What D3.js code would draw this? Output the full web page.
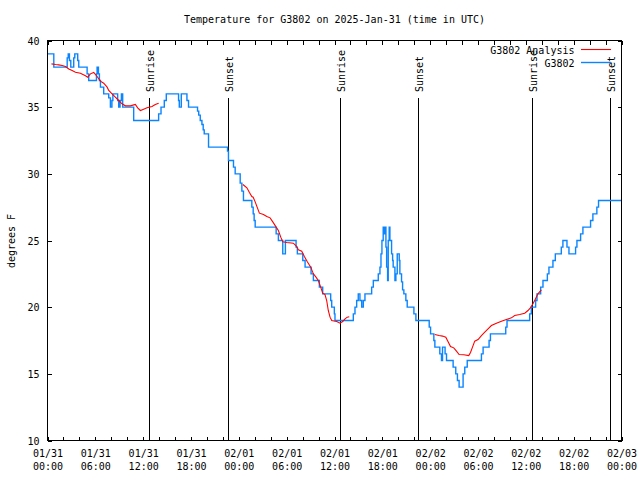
<!DOCTYPE html>
<html><head><meta charset="utf-8">
<script src="https://cdn.jsdelivr.net/npm/d3@7"></script>
<style>
body{margin:0;background:#fff}
text{font-family:"DejaVu Sans Mono","Liberation Mono",monospace;font-size:10px;fill:#000}
</style>
</head><body>
<svg id="c" width="640" height="480"></svg>
<script>
// ---- data ----
const title = "Temperature for G3802 on 2025-Jan-31 (time in UTC)";
const yLabel = "degrees F";
const yTicks = [10, 15, 20, 25, 30, 35, 40];
const xTickHours = [0, 6, 12, 18, 24, 30, 36, 42, 48, 54, 60, 66, 72];
const xTickDates = ["01/31","01/31","01/31","01/31","02/01","02/01","02/01","02/01","02/02","02/02","02/02","02/02","02/03"];
const xTickTimes = ["00:00","06:00","12:00","18:00","00:00","06:00","12:00","18:00","00:00","06:00","12:00","18:00","00:00"];
const xMinorHours = d3.range(0, 73, 2);
const sunHours = [12.68, 22.58, 36.73, 46.49, 60.77, 70.54];
const sunLabels = ["Sunrise", "Sunset", "Sunrise", "Sunset", "Sunrise", "Sunset"];
const seriesNames = ["G3802 Analysis", "G3802"];

// observed G3802 (hours since 01/31 00:00 UTC, °F), step-after
const obsHours = [0, 0.79, 2.47, 2.6, 2.75, 2.92, 3.29, 3.42, 3.79, 3.92, 4.97, 5.17, 6.14, 6.22, 6.39, 6.51, 6.64, 7.05,
  7.68, 7.89, 8.08, 8.2, 8.8, 8.93, 9.1, 9.27, 9.43, 10.81, 13.94, 14.24, 14.65, 14.9, 16.44, 16.53, 16.78, 17.49, 17.69,
  18.82, 18.97, 19.16, 19.37, 19.53, 19.66, 20.2, 22.58, 22.7, 23.33, 23.54, 24.17, 24.38, 24.58, 25.63, 25.8, 25.92, 26.05,
  28.68, 28.96, 29.51, 29.84, 31.18, 31.34, 32.02, 32.31, 33.06, 33.35, 34.1, 34.52, 35.52, 35.65, 35.98, 36.06,
  38.36, 38.57, 38.78, 38.98, 39.19, 39.41, 39.61, 39.82, 40.66, 40.87, 41.49, 41.7, 41.83, 41.95, 42.11, 42.24, 42.32,
  42.45, 42.54, 42.66, 42.74, 42.86, 42.95, 43.16, 43.29, 43.36, 43.58, 43.7, 43.87, 44.12, 44.2, 44.41, 44.54, 44.7,
  44.95, 45.12, 45.96, 46.21, 47.88, 48.05, 48.46, 48.59, 49.21, 49.42, 49.55, 49.87, 50.05, 50.88, 51.21, 51.42, 51.63,
  52.13, 52.34, 52.65, 54.43, 54.64, 55.39, 55.56, 57.48, 57.64, 60.48, 60.69, 61.23, 61.4, 61.86, 62.15, 62.7, 62.9,
  63.4, 63.7, 64.45, 64.65, 65.16, 65.41, 66.24, 66.41, 66.87, 67.16, 68.12, 68.41, 68.91, 69.12, 72];
const obsTemps = [39, 38, 38.7, 39, 38.5, 38, 38.7, 39, 38.5, 38, 37.5, 37, 37.5, 38, 37.5, 37, 36.5, 36,
  35.7, 35, 35.5, 36, 35.5, 35, 35.5, 36, 35, 34, 34.5, 35, 35.5, 36, 35.5, 35, 36, 35.5, 35,
  34.7, 34.4, 34, 33.7, 33.3, 33, 32, 31.7, 31, 30.5, 30, 29.3, 28.7, 28, 27.5, 27, 26.5, 26,
  25.5, 25, 24, 25, 24.5, 24, 23.5, 23, 22.5, 22, 21.5, 21, 20.5, 20, 19.5, 19,
  19.5, 20, 20.5, 21, 20.5, 20, 20.5, 21, 21.5, 22, 22.5, 23, 24, 25, 26, 25.5, 26,
  24.5, 23, 22, 25, 26, 25, 24, 23.5, 23, 22, 22.5, 24, 23.5, 22.5, 21.9, 21.3, 21,
  20.5, 20, 19.5, 19, 18.5, 18, 17.5, 17, 16.5, 16, 17, 16.5, 16, 15.5, 15, 14.5, 14,
  15, 15.5, 16, 16.5, 17, 17.5, 18, 18.5, 19, 19.5, 20, 20.5, 21, 21.5, 22, 22.5, 23,
  23.5, 24, 24.5, 25, 24.5, 24, 24.5, 25, 25.5, 26, 26.5, 27, 27.5, 28, 28];

// analysis (null = gap)
const anaHours = [0.5, 1.0, 1.41, 1.84, 2.25, 2.67, 3.09, 3.51, 4.13, 4.76, 5.05, 5.38, 5.8, 6.22, 6.64, 7.05, 7.48, 7.68,
  8.1, 8.51, 8.93, 9.35, 9.77, 10.39, 11.02, 11.31, 11.65, 12.06, 12.48, 13.11, 13.52, 13.94, 19,
  24.51, 25.01, 25.33, 25.63, 25.8, 26.05, 26.33, 26.58, 27.09, 27.51, 27.92, 28.26, 28.68, 28.96, 29.26, 29.51, 30.02,
  30.84, 31.18, 31.47, 31.89, 32.22, 32.59, 33.02, 33.35, 33.68, 33.97, 34.27, 34.52, 34.81, 35.02, 35.22, 35.44, 35.65,
  36.28, 36.69, 37.03, 37.32, 37.6, 37.85, 43,
  48.58, 49.12, 49.55, 49.96, 50.25, 50.55, 50.96, 51.3, 51.63, 52.22, 52.84, 53.06, 53.31, 53.59, 54.01, 54.43, 54.85,
  55.26, 55.68, 56.31, 56.94, 57.56, 58.19, 58.6, 59.23, 59.86, 60.27, 60.57, 60.89, 61.19, 61.52, 61.95];
const anaTemps = [38.25, 38.2, 38.17, 38.12, 38.05, 37.87, 37.75, 37.62, 37.55, 37.35, 37.25, 37.5, 37.6, 37.3, 36.95, 36.8, 36.5, 36.25,
  36.0, 35.75, 35.5, 35.25, 35.1, 35.1, 35.2, 34.95, 34.75, 34.85, 34.95, 35.05, 35.2, 35.3, null,
  29.2, 28.95, 28.6, 28.3, 28.25, 27.9, 27.45, 27.05, 26.95, 26.8, 26.7, 26.4, 26.0, 25.75, 25.25, 24.9, 24.85,
  24.8, 24.6, 24.3, 24.2, 23.8, 23.4, 23.0, 22.5, 22.25, 22.0, 21.5, 21.05, 20.95, 20.5, 19.75, 19.25, 19.0,
  18.92, 18.8, 18.92, 19.12, 19.25, 19.28, null,
  17.95, 17.87, 17.83, 17.75, 17.4, 17.05, 16.95, 16.7, 16.45, 16.43, 16.37, 16.6, 17.0, 17.45, 17.57, 17.87, 18.12,
  18.37, 18.62, 18.8, 18.95, 19.07, 19.2, 19.37, 19.45, 19.55, 19.75, 19.95, 20.25, 20.6, 21.0, 21.3];

// ---- drawing ----
const L = 47.5, R = 621.5, T = 40.5, B = 440.5;
const svg = d3.select("#c");
const x = d3.scaleLinear().domain([0, 72]).range([L, R]);
const y = d3.scaleLinear().domain([10, 40]).range([B, T]);

svg.append("rect").attr("width", 640).attr("height", 480).attr("fill", "#fff");

svg.append("text").attr("x", 334.5).attr("y", 23).attr("text-anchor", "middle").text(title);
svg.append("text").attr("transform", "translate(15,241) rotate(-90)").attr("text-anchor", "middle").text(yLabel);

function clean(g) { g.select(".domain").remove(); g.selectAll("line").attr("stroke", "#000").attr("shape-rendering", "crispEdges"); }

// bottom ticks + labels
svg.append("g").attr("transform", `translate(0,${B})`)
  .call(d3.axisBottom(x).tickValues(xMinorHours).tickSize(-4).tickFormat(""))
  .call(clean);
const bl = svg.append("g").attr("transform", `translate(0,${B})`)
  .call(d3.axisBottom(x).tickValues(xTickHours).tickSize(0).tickFormat(""));
bl.select(".domain").remove();
bl.selectAll(".tick text").each(function(d, i) {
  const t = d3.select(this).attr("y", null).attr("dy", null)
    .attr("font-family", null).attr("font-size", null).attr("fill", null);
  t.append("tspan").attr("x", 0).attr("y", 16.5).text(xTickDates[i]);
  t.append("tspan").attr("x", 0).attr("y", 29).text(xTickTimes[i]);
});
// top ticks
svg.append("g").attr("transform", `translate(0,${T})`)
  .call(d3.axisTop(x).tickValues(xMinorHours).tickSize(-4).tickFormat(""))
  .call(clean);
// left ticks + labels
const la = svg.append("g").attr("transform", `translate(${L},0)`)
  .call(d3.axisLeft(y).tickValues(yTicks).tickSize(-4).tickPadding(8).tickFormat(d3.format("d")))
  .call(clean);
la.selectAll("text").attr("font-family", null).attr("font-size", null).attr("fill", null).attr("dy", "0.36em");
// right ticks
svg.append("g").attr("transform", `translate(${R},0)`)
  .call(d3.axisRight(y).tickValues(yTicks).tickSize(-4).tickFormat(""))
  .call(clean);

// sunrise / sunset
const sun = svg.append("g");
sunHours.forEach((h, i) => {
  const sx = Math.round(x(h)) + 0.5;
  sun.append("line").attr("x1", sx).attr("x2", sx).attr("y1", 98).attr("y2", B)
    .attr("stroke", "#000").attr("shape-rendering", "crispEdges");
  sun.append("text").attr("transform", `translate(${sx + 4},92) rotate(-90)`).text(sunLabels[i]);
});

// clip
svg.append("clipPath").attr("id", "pc").append("rect").attr("x", L).attr("y", T).attr("width", R - L).attr("height", B - T);

const obs = obsHours.map((h, i) => ({h, v: obsTemps[i]}));
const ana = anaHours.map((h, i) => ({h, v: anaTemps[i]}));

svg.append("path").attr("clip-path", "url(#pc)")
  .attr("d", d3.line().x(d => x(d.h)).y(d => y(d.v)).curve(d3.curveStepAfter)(obs))
  .attr("fill", "none").attr("stroke", "#0a84ff").attr("stroke-width", 1.4);

svg.append("path").attr("clip-path", "url(#pc)")
  .attr("d", d3.line().defined(d => d.v != null).x(d => x(d.h)).y(d => y(d.v))(ana))
  .attr("fill", "none").attr("stroke", "#ff0000").attr("stroke-width", 1.1);

// legend
const lg = svg.append("g");
const lgColors = ["#ff0000", "#0a84ff"];
const lgWidths = [1.1, 1.4];
seriesNames.forEach((n, i) => {
  const ly = 49.5 + i * 13;
  lg.append("text").attr("x", 574.5).attr("y", ly + 4).attr("text-anchor", "end").text(n);
  lg.append("line").attr("x1", 581).attr("x2", 611).attr("y1", ly).attr("y2", ly)
    .attr("stroke", lgColors[i]).attr("stroke-width", lgWidths[i]);
});

// border
svg.append("rect").attr("x", L).attr("y", T).attr("width", R - L).attr("height", B - T)
  .attr("fill", "none").attr("stroke", "#000").attr("shape-rendering", "crispEdges");
</script>
</body></html>
